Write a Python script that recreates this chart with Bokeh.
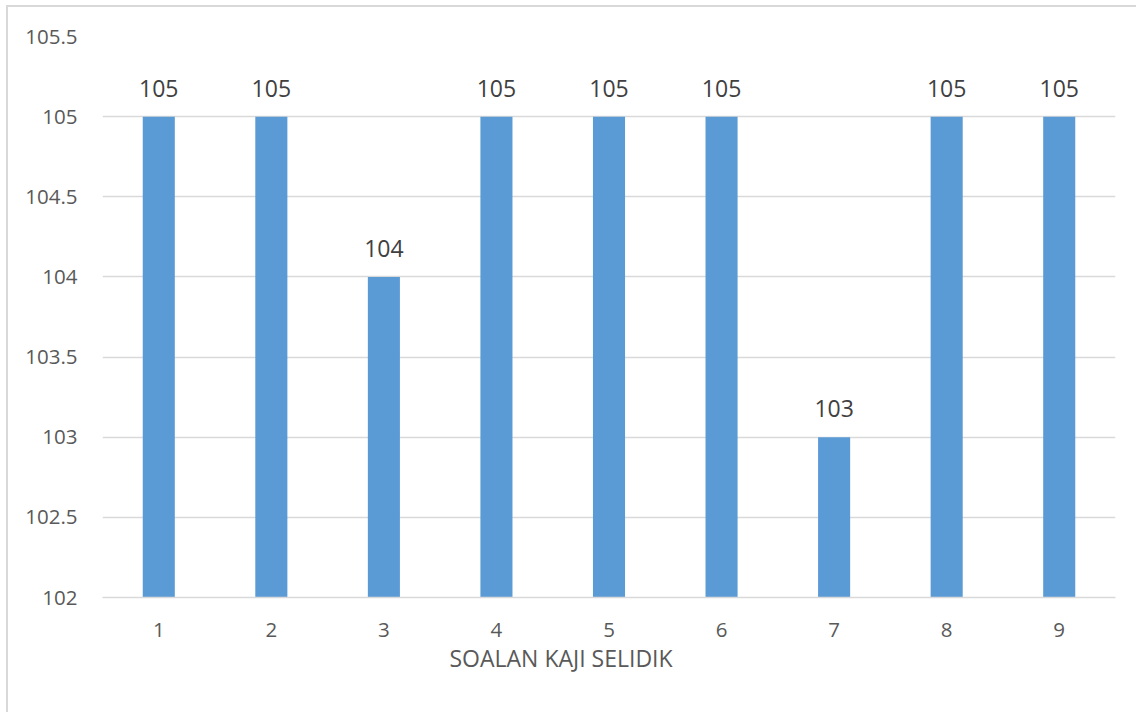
from bokeh.plotting import figure
from bokeh.models import ColumnDataSource, FixedTicker, LabelSet, Title
from bokeh.core.properties import value
from bokeh.embed import file_html
from bokeh.resources import INLINE

categories = ["1", "2", "3", "4", "5", "6", "7", "8", "9"]
values = [105, 105, 104, 105, 105, 105, 103, 105, 105]
y_ticks = [102, 102.5, 103, 103.5, 104, 104.5, 105, 105.5]
x_title = "SOALAN KAJI SELIDIK"

FONT = "Open Sans"
TXT = "#595959"

src = ColumnDataSource(dict(x=categories, top=values, label=[str(v) for v in values]))

p = figure(x_range=categories, y_range=(102, 105.5), width=1130, height=707,
           output_backend="svg", toolbar_location=None,
           min_border_left=94, min_border_right=23, min_border_top=29, min_border_bottom=117)
p.styles = {"border-left": "2px solid #d9d9d9", "border-top": "2px solid #d9d9d9",
            "margin-left": "6px", "margin-top": "5px"}
p.outline_line_color = None
p.background_fill_color = "white"
p.border_fill_color = "white"

p.vbar(x="x", top="top", bottom=102, width=0.285, source=src,
       fill_color="#5B9BD5", line_color=None)

labels = LabelSet(x="x", y="top", text="label", source=src, y_offset=20,
                  text_align="center", text_baseline="bottom",
                  text_font=value(FONT), text_font_size="23px", text_color="#404040")
p.add_layout(labels)

p.yaxis.ticker = FixedTicker(ticks=y_ticks)
p.yaxis.major_label_overrides = {t: f"{t:g}" for t in y_ticks}
p.ygrid.ticker = FixedTicker(ticks=y_ticks)
p.ygrid.grid_line_color = "#d9d9d9"
p.ygrid.grid_line_width = 1.5
p.xgrid.grid_line_color = None

for ax in (p.xaxis, p.yaxis):
    ax.major_tick_line_color = None
    ax.minor_tick_line_color = None
    ax.major_label_text_font = FONT
    ax.major_label_text_font_size = "20.5px"
    ax.major_label_text_color = TXT
p.yaxis.axis_line_color = None
p.yaxis.major_label_standoff = 19
p.xaxis.axis_line_color = "#d9d9d9"
p.xaxis.axis_line_width = 1.5
p.xaxis.major_label_standoff = 19

# x-axis title (Excel places it slightly left of the frame centre)
p.add_layout(Title(text=x_title, align="left", offset=347, standoff=0,
                   text_font=FONT, text_font_size="23px", text_font_style="normal",
                   text_color=TXT), "below")

open("out.html", "w").write(file_html(p, INLINE))
